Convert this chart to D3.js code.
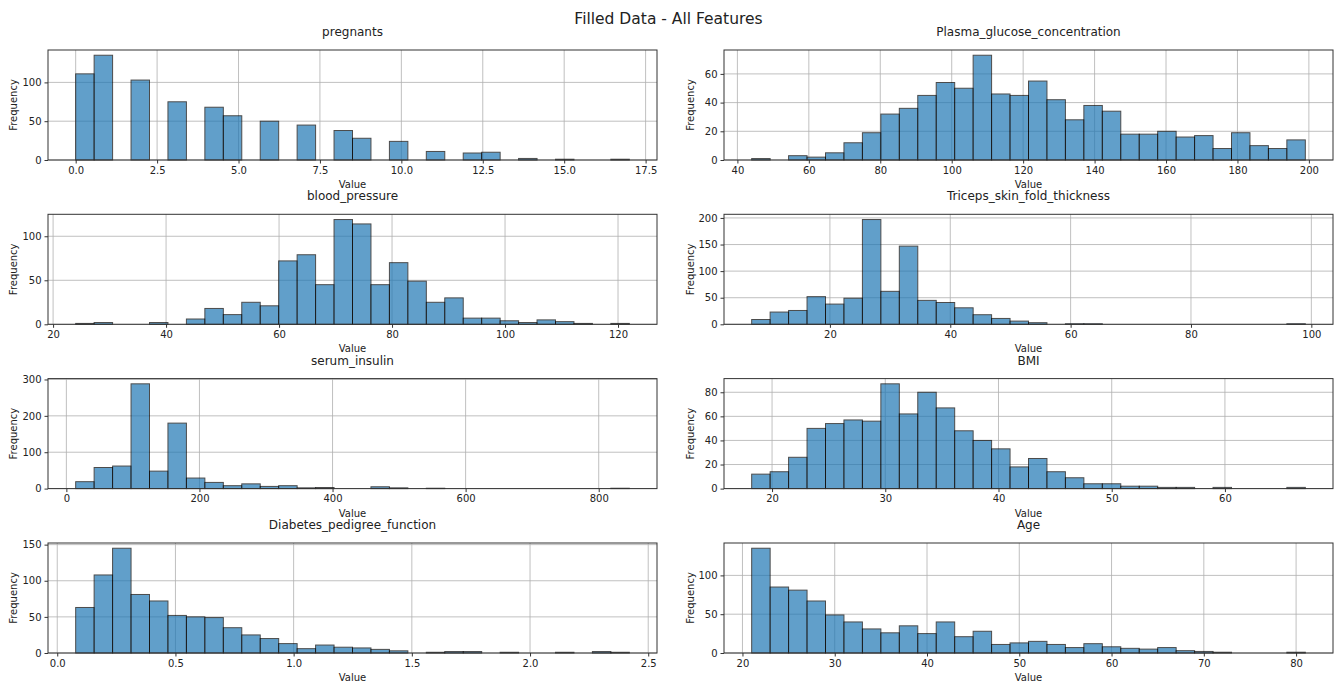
<!DOCTYPE html>
<html>
<head>
<meta charset="utf-8">
<script src="https://cdn.jsdelivr.net/npm/d3@7"></script>
<style>
  body { margin: 0; background: #fff; }
  text { font-family: "DejaVu Sans", sans-serif; fill: #222; }
</style>
</head>
<body>
<div id="chart"></div>
<script>
// feature names, in grid order (left->right, top->bottom)
var features = ["pregnants", "Plasma_glucose_concentration", "blood_pressure", "Triceps_skin_fold_thickness",
                "serum_insulin", "BMI", "Diabetes_pedigree_function", "Age"]

// data range of each feature (histogram spans min..max in 30 bins)
var mins = [0, 44, 24, 7, 14, 18.2, 0.078, 21]
var maxs = [17, 199, 122, 99, 846, 67.1, 2.42, 81]

// bin counts
var pregnants = [111,135,0,103,0,75,0,68,57,0,50,0,45,0,38,28,0,24,0,11,0,9,10,0,2,0,1,0,0,1]
var glucose = [1,0,3,2,5,12,19,32,36,45,54,50,73,46,45,55,42,28,38,34,18,18,20,16,17,8,19,10,8,14]
var bloodPressure = [1,2,0,0,2,0,6,18,11,25,21,72,79,45,119,114,45,70,49,25,30,7,7,4,2,5,3,1,0,1]
var triceps = [9,23,26,52,38,49,197,62,147,45,41,31,18,11,6,3,0,1,1,0,0,0,0,0,0,0,0,0,0,1]
var insulin = [19,58,62,288,48,180,29,17,8,13,6,8,2,3,0,0,5,2,0,1,0,0,0,0,0,0,0,0,0,1]
var bmi = [12,14,26,50,54,57,56,87,62,80,67,48,40,33,18,25,14,9,4,4,2,2,1,1,0,1,0,0,0,1]
var pedigree = [63,108,145,81,72,52,50,49,35,25,20,13,6,11,8,7,5,3,0,1,2,2,0,1,0,0,1,0,2,1]
var age = [135,85,81,67,49,40,31,26,35,25,40,21,28,11,13,15,11,7,12,8,6,5,7,3,2,1,0,0,0,1]
var counts = [pregnants, glucose, bloodPressure, triceps, insulin, bmi, pedigree, age]

// tick values
var xTicks = [
  [0, 2.5, 5, 7.5, 10, 12.5, 15, 17.5],
  [40, 60, 80, 100, 120, 140, 160, 180, 200],
  [20, 40, 60, 80, 100, 120],
  [20, 40, 60, 80, 100],
  [0, 200, 400, 600, 800],
  [20, 30, 40, 50, 60],
  [0, 0.5, 1, 1.5, 2, 2.5],
  [20, 30, 40, 50, 60, 70, 80]
]
var xFormats = [".1f", "d", "d", "d", "d", "d", ".1f", "d"]
var yTicks = [
  [0, 50, 100],
  [0, 20, 40, 60],
  [0, 50, 100],
  [0, 50, 100, 150, 200],
  [0, 100, 200, 300],
  [0, 20, 40, 60, 80],
  [0, 50, 100, 150],
  [0, 50, 100]
]

var W = 1337, H = 684
var svg = d3.select("#chart").append("svg")
  .attr("width", W)
  .attr("height", H)

svg.append("text")
  .attr("x", W / 2)
  .attr("y", 24)
  .attr("text-anchor", "middle")
  .style("font-size", "15.5px")
  .text("Filled Data - All Features")

var colX = [48, 724], plotW = 609, plotH = 110
var rowY = [50, 214.3, 378.6, 543]
var nBins = 30

features.forEach(function(name, i) {
  var left = colX[i % 2], top = rowY[Math.floor(i / 2)]
  var lo = mins[i], hi = maxs[i], pad = (hi - lo) * 0.05
  var data = counts[i]

  var x = d3.scaleLinear().domain([lo - pad, hi + pad]).range([0, plotW])
  var y = d3.scaleLinear().domain([0, d3.max(data) * 1.05]).range([plotH, 0])
  var edge = d3.scaleLinear().domain([0, nBins]).range([lo, hi])

  var g = svg.append("g").attr("transform", "translate(" + left + "," + top + ")")

  // grid
  g.append("g").selectAll("line").data(xTicks[i]).enter().append("line")
    .attr("x1", function(d) { return x(d) }).attr("x2", function(d) { return x(d) })
    .attr("y1", 0).attr("y2", plotH)
    .attr("stroke", "#b0b0b0").attr("stroke-width", 0.8)
  g.append("g").selectAll("line").data(yTicks[i]).enter().append("line")
    .attr("x1", 0).attr("x2", plotW)
    .attr("y1", function(d) { return y(d) }).attr("y2", function(d) { return y(d) })
    .attr("stroke", "#b0b0b0").attr("stroke-width", 0.8)

  // bars
  g.append("g").selectAll("rect").data(data).enter().append("rect")
    .attr("x", function(d, k) { return x(edge(k)) })
    .attr("width", function(d, k) { return x(edge(k + 1)) - x(edge(k)) })
    .attr("y", function(d) { return y(d) })
    .attr("height", function(d) { return plotH - y(d) })
    .attr("fill", "#1f77b4")
    .attr("stroke", "#000")
    .attr("stroke-width", 1)
    .attr("opacity", 0.7)

  // axes
  var xAxis = g.append("g")
    .attr("transform", "translate(0," + plotH + ")")
    .call(d3.axisBottom(x).tickValues(xTicks[i]).tickFormat(d3.format(xFormats[i])).tickSize(3.5).tickPadding(3))
  var yAxis = g.append("g")
    .call(d3.axisLeft(y).tickValues(yTicks[i]).tickFormat(d3.format("d")).tickSize(3.5).tickPadding(3))
  ;[xAxis, yAxis].forEach(function(a) {
    a.select(".domain").remove()
    a.selectAll("line").attr("stroke", "#333")
    a.selectAll("text").style("font-size", "10px").style("font-family", "DejaVu Sans, sans-serif").attr("fill", "#222")
  })

  // frame
  g.append("rect")
    .attr("width", plotW).attr("height", plotH)
    .attr("fill", "none").attr("stroke", "#333").attr("stroke-width", 1)

  // labels
  g.append("text")
    .attr("x", plotW / 2).attr("y", -14)
    .attr("text-anchor", "middle")
    .style("font-size", "12px")
    .text(name)
  g.append("text")
    .attr("x", plotW / 2).attr("y", plotH + 28)
    .attr("text-anchor", "middle")
    .style("font-size", "10px")
    .text("Value")
  g.append("text")
    .attr("transform", "translate(" + (i % 2 == 0 ? -31 : -30) + "," + plotH / 2 + ")rotate(-90)")
    .attr("text-anchor", "middle")
    .style("font-size", "10px")
    .text("Frequency")
})
</script>
</body>
</html>
